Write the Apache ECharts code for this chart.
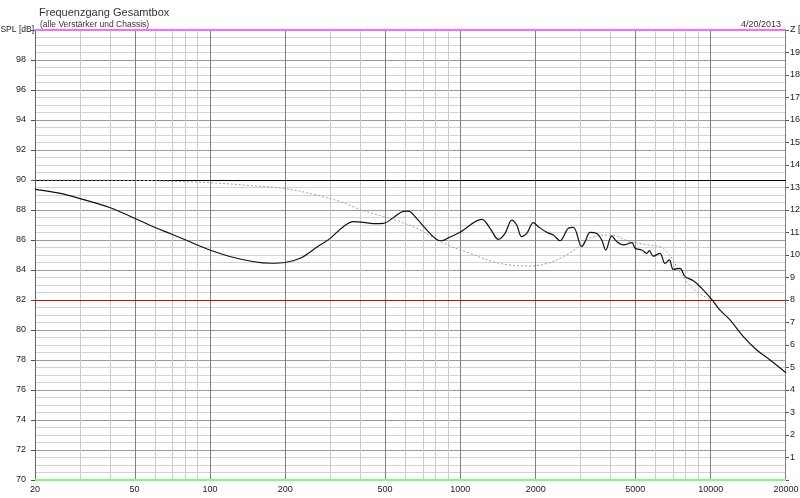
<!DOCTYPE html>
<html><head><meta charset="utf-8">
<script src="https://cdn.jsdelivr.net/npm/echarts@6/dist/echarts.min.js"></script>
<style>html,body{margin:0;padding:0;background:#fff}#c{width:800px;height:498px}</style>
</head><body><div id="c"></div>
<script>
const titleText = 'Frequenzgang Gesamtbox';
const subtitleText = '(alle Verstärker und Chassis)';
const dateText = '4/20/2013';
const leftAxisName = 'SPL [dB]';
const rightAxisName = 'Z [Ohm]';

const freqLabels = [20, 50, 100, 200, 500, 1000, 2000, 5000, 10000, 20000];
const freqMinor = [30, 40, 60, 70, 80, 90, 300, 400, 600, 700, 800, 900, 3000, 4000, 6000, 7000, 8000, 9000];

const splFreq = [20, 25, 30, 40, 50, 60, 70, 80, 90, 100, 120, 150, 175, 200, 229, 267, 302, 341, 374, 410, 449, 493, 540, 592, 620, 669, 734, 804, 842, 910, 997, 1218, 1315, 1419, 1509, 1605, 1680, 1759, 1842, 1958, 2050, 2214, 2354, 2502, 2702, 2829, 3055, 3151, 3299, 3508, 3673, 3811, 4027, 4217, 4482, 4842, 4994, 5309, 5559, 5689, 5902, 6276, 6572, 6839, 7096, 7544, 7900, 8531, 9210, 10099, 10902, 11953, 13510, 15276, 17270, 20000];
const splValues = [89.38, 89.12, 88.78, 88.15, 87.45, 86.85, 86.4, 86.0, 85.63, 85.33, 84.9, 84.55, 84.45, 84.5, 84.78, 85.51, 86.11, 86.89, 87.22, 87.18, 87.09, 87.11, 87.49, 87.91, 87.93, 87.44, 86.67, 86.04, 85.95, 86.2, 86.51, 87.38, 86.78, 86.04, 86.44, 87.33, 87.0, 86.22, 86.44, 87.16, 86.89, 86.51, 86.33, 85.95, 86.78, 86.84, 85.56, 85.89, 86.51, 86.44, 86.0, 85.33, 86.27, 85.89, 85.67, 85.82, 85.45, 85.33, 85.11, 85.29, 84.93, 85.11, 84.44, 84.67, 84.04, 84.11, 83.56, 83.29, 82.78, 82.04, 81.33, 80.67, 79.56, 78.67, 78.0, 77.15];

const refFreq = [20, 50, 60, 100, 144, 196, 267, 331, 397, 493, 574, 669, 780, 910, 1094, 1315, 1580, 1900, 2214, 2578, 3006, 3396, 3960, 4758, 5309, 5718, 6276, 6670, 7007, 7444, 8020, 8796, 9790, 10099];
const refValues = [90.0, 89.98, 89.95, 89.82, 89.63, 89.44, 89.0, 88.56, 88.04, 87.56, 87.22, 86.78, 86.16, 85.6, 85.11, 84.62, 84.33, 84.27, 84.44, 84.89, 85.6, 86.22, 86.33, 85.89, 85.75, 85.65, 85.55, 85.22, 84.78, 84.0, 83.22, 82.56, 82.1, 82.0];

const splMin = 70, splMax = 100, splStep = 2;
const zMin = 0, zMax = 20, zStep = 1;
const blackLineLevel = 90;
const redLineLevel = 82;

const FONT = '"Liberation Sans", Arial, sans-serif';
const lg = Math.log10;

const gridLines = [];
freqMinor.forEach(f => gridLines.push({ xAxis: lg(f), lineStyle: { color: '#cacaca', width: 1, type: 'solid' } }));
freqLabels.forEach(f => gridLines.push({ xAxis: lg(f), lineStyle: { color: '#808080', width: 1, type: 'solid' } }));
gridLines.push({ yAxis: blackLineLevel, lineStyle: { color: '#000000', width: 1, type: 'solid' } });
gridLines.push({ yAxis: redLineLevel, lineStyle: { color: '#e00000', width: 1, type: 'solid' } });
gridLines.push({ yAxis: splMax, lineStyle: { color: '#ff66ff', width: 2, type: 'solid' } });
gridLines.push({ yAxis: splMin, lineStyle: { color: '#77ff77', width: 2, type: 'solid' } });

const chart = echarts.init(document.getElementById('c'), null, { renderer: 'canvas' });
chart.setOption({
  animation: false,
  backgroundColor: '#ffffff',
  textStyle: { fontFamily: FONT },
  title: [
    { text: titleText, left: 34, top: 2, textStyle: { fontSize: 11, fontWeight: 'normal', color: '#333', fontFamily: FONT } },
    { text: subtitleText, left: 35, top: 15, textStyle: { fontSize: 8.5, fontWeight: 'normal', color: '#333', fontFamily: FONT } },
    { text: dateText, right: 14, top: 15, textStyle: { fontSize: 9, fontWeight: 'normal', color: '#333', fontFamily: FONT } }
  ],
  grid: { left: 35, right: 14, top: 30, bottom: 18, containLabel: false, outerBoundsMode: 'none' },
  xAxis: {
    type: 'value',
    min: lg(20), max: lg(20000),
    axisLine: { show: false },
    axisTick: { show: false },
    splitLine: { show: false },
    axisLabel: {
      customValues: freqLabels.map(lg),
      formatter: v => String(Math.round(Math.pow(10, v))),
      color: '#222', fontSize: 9, margin: 5, fontFamily: FONT
    }
  },
  yAxis: [
    {
      type: 'value', min: splMin, max: splMax, interval: splStep,
      name: leftAxisName, nameLocation: 'end', nameGap: 0,
      nameTextStyle: { align: 'right', verticalAlign: 'middle', padding: [0, 1, 0, 0], fontSize: 8.5, color: '#222', fontFamily: FONT },
      axisLine: { show: true, lineStyle: { color: '#666' } },
      axisTick: { show: true, length: 4, lineStyle: { color: '#555' } },
      axisLabel: { formatter: v => (v === splMax ? '' : String(v)), color: '#222', fontSize: 9, margin: 9, fontFamily: FONT },
      splitLine: { show: true, lineStyle: { color: '#9a9a9a', width: 1 } },
      minorTick: { show: false, splitNumber: 4 },
      minorSplitLine: { show: true, lineStyle: { color: '#d2d2d2', width: 1 } }
    },
    {
      type: 'value', min: zMin, max: zMax, interval: zStep, position: 'right',
      name: rightAxisName, nameLocation: 'end', nameGap: 0,
      nameTextStyle: { align: 'left', verticalAlign: 'middle', padding: [0, 0, 0, 4], fontSize: 9, color: '#222', fontFamily: FONT },
      axisLine: { show: false },
      axisTick: { show: true, length: 3, lineStyle: { color: '#555' } },
      axisLabel: { formatter: v => (v === zMin || v === zMax ? '' : String(v)), color: '#222', fontSize: 9, margin: 4, fontFamily: FONT },
      splitLine: { show: false }
    }
  ],
  series: [
    {
      type: 'line', data: [], z: 1, silent: true,
      markLine: { silent: true, z: 1, symbol: ['none', 'none'], label: { show: false }, emphasis: { disabled: true }, animation: false, data: gridLines }
    },
    {
      name: 'Ziel', type: 'line', z: 5, yAxisIndex: 0, showSymbol: false, smooth: 0.4,
      lineStyle: { color: '#a0a0a0', width: 1, type: [2, 2] },
      data: refFreq.map((f, i) => [lg(f), refValues[i]])
    },
    {
      name: 'SPL', type: 'line', z: 6, yAxisIndex: 0, showSymbol: false, smooth: 0.35,
      lineStyle: { color: '#111111', width: 1.2 },
      data: splFreq.map((f, i) => [lg(f), splValues[i]])
    }
  ]
});
</script>
</body></html>
